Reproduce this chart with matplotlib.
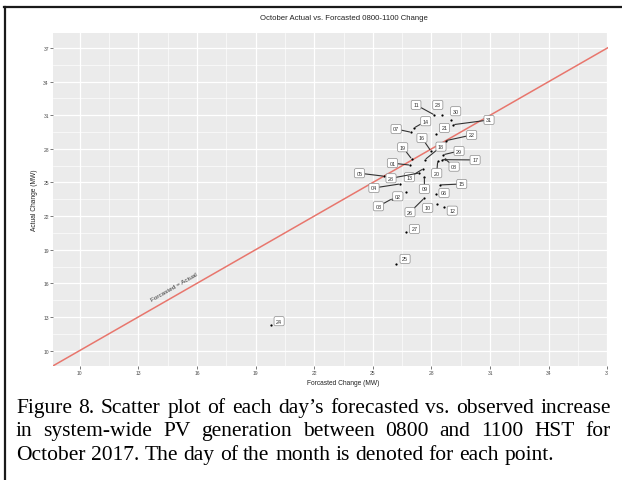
import matplotlib
matplotlib.use("Agg")
import matplotlib.pyplot as plt
import numpy as np
from matplotlib.lines import Line2D
from matplotlib.patches import Rectangle

# ---- data ----
days = ["01", "02", "03", "04", "05", "06", "07", "08", "09", "10",
        "11", "12", "13", "14", "15", "16", "17", "18", "19", "20",
        "21", "22", "23", "24", "25", "26", "27", "28", "29", "30", "31"]
forecasted = [26.91, 26.69, 25.97, 26.39, 25.58, 28.22, 26.96, 28.70, 27.64, 28.27,
              28.15, 28.64, 27.57, 27.11, 28.44, 27.96, 28.53, 27.67, 26.99, 28.32,
              28.24, 28.73, 28.53, 19.78, 26.19, 27.62, 26.69, 27.38, 28.61, 29.00, 29.12]
actual = [26.55, 24.18, 23.53, 24.87, 25.56, 23.98, 29.48, 27.10, 25.52, 23.09,
          31.03, 22.79, 26.21, 29.87, 24.78, 27.84, 27.04, 27.04, 27.10, 26.90,
          29.36, 28.73, 31.03, 12.32, 17.71, 23.58, 20.56, 25.85, 27.48, 30.61, 30.16]

# where each day label sits relative to its point (pixels), like ggrepel did
label_nudge = [(-17.7, 2), (-8, -4.6), (-13.4, -7.3), (-26, -4), (-24.7, 3),
               (8.3, 1), (-15, 3.3), (9, -7.7), (0, -12.3), (-9, -4),
               (-18.3, 10), (8.3, -3.4), (-13.7, -8.3), (11.7, 6.7), (21.7, 1),
               (-8.7, 12.7), (33.3, -0.3), (16, 13), (-9, 11.7), (-1, -12),
               (8.3, 5.7), (26, 5.7), (-4, 10), (8.3, 3.4), (9, 5.3),
               (-14, -13.8), (8.6, 3.3), (-28.3, -5.3), (15.7, 3.7), (4.7, 8.4),
               (35.7, 4.7)]

x_ticks = [10, 13, 16, 19, 22, 25, 28, 31, 34, 37]
y_ticks = [10, 13, 16, 19, 22, 25, 28, 31, 34, 37]

title = "October Actual vs. Forcasted 0800-1100 Change"
x_label = "Forcasted Change (MW)"
y_label = "Actual Change (MW)"
caption_lines = [
    "Figure 8. Scatter plot of each day\u2019s forecasted vs. observed increase",
    "in system-wide PV generation between 0800 and 1100 HST for",
    "October 2017. The day of the month is denoted for each point.",
]

W, H = 622, 481
sans = "Liberation Sans"
serif = "Liberation Serif"

fig = plt.figure(figsize=(W / 100, H / 100), dpi=100)
ax = fig.add_axes([53.3 / W, 1 - 366.7 / H, 580.4 / W, (366.7 - 33.9) / H])
ax.set_facecolor("#ebebeb")
ax.set_xlim(8.65, 38.35)
ax.set_ylim(8.65, 38.35)
ax.set_xticks(x_ticks)
ax.set_yticks(y_ticks)
ax.set_xticks(np.array(x_ticks[:-1]) + 1.5, minor=True)
ax.set_yticks(np.array(y_ticks[:-1]) + 1.5, minor=True)
ax.grid(which="major", color="white", lw=0.9)
ax.grid(which="minor", color="white", lw=0.45)
ax.set_axisbelow(True)
ax.tick_params(which="minor", length=0)
ax.tick_params(which="major", length=2, width=0.5, color="#444444",
               labelsize=3.6, labelcolor="#4d4d4d", pad=1.2)
for t in ax.get_xticklabels() + ax.get_yticklabels():
    t.set_fontfamily(sans)
for s in ax.spines.values():
    s.set_visible(False)

# forecasted = actual reference line
ax.axline((10, 10), slope=1, color="#e8766d", lw=1.1, zorder=2)
ax.text(14.83, 15.68, "Forcasted = Actual", rotation=29.8, ha="center", va="center",
        fontsize=4.6, color="#333333", family=sans)

ax.scatter(forecasted, actual, s=2.6, color="black", zorder=4, linewidths=0)

for d, fx, ay, (dx, dy) in zip(days, forecasted, actual, label_nudge):
    far = np.hypot(dx, dy) > 11
    ax.annotate(d, (fx, ay), xytext=(dx, dy), textcoords="offset pixels",
                ha="center", va="center", fontsize=3.9, color="#333333", family=sans,
                bbox=dict(boxstyle="round,pad=0.38,rounding_size=0.3",
                          fc="white", ec="#8c8c8c", lw=0.5),
                arrowprops=dict(arrowstyle="-", color="#333333", lw=0.8,
                                shrinkA=0, shrinkB=1) if far else None,
                zorder=5)

ax.set_xlabel(x_label, fontsize=4.8, color="#222222", family=sans, labelpad=3)
ax.set_ylabel(y_label, fontsize=4.8, color="#222222", family=sans, labelpad=4)
fig.text(343.5 / W, 1 - 18 / H, title, ha="center", va="center",
         fontsize=5.6, color="#222222", family=sans)

# the picture was cropped on the right: blank out the cut-off strip
fig.add_artist(Rectangle((608 / W, 1 - 392 / H), 14 / W, (392 - 11) / H,
                         transform=fig.transFigure, fc="white", ec="none", zorder=10))

# frame of the document figure (left and top edges only are visible)
fig.add_artist(Line2D([4.7 / W, 4.7 / W], [0, 1 - 7.5 / H], transform=fig.transFigure,
                      color="#1a1a1a", lw=1.6, zorder=11))
fig.add_artist(Line2D([3.9 / W, 1], [1 - 8 / H, 1 - 8 / H], transform=fig.transFigure,
                      color="#1a1a1a", lw=1.6, zorder=11))

# caption, justified like the paper
renderer = fig.canvas.get_renderer()
cap_size = 15.5
x_left, x_right = 16, 611
baselines = [413, 436.5, 460]
for i, (line, base) in enumerate(zip(caption_lines, baselines)):
    words = line.split()
    texts = [fig.text(0, 1 - base / H, w, fontsize=cap_size, family=serif,
                      va="baseline", ha="left", color="black") for w in words]
    widths = [t.get_window_extent(renderer).width for t in texts]
    if i < len(caption_lines) - 1:
        gap = (x_right - x_left - sum(widths)) / (len(words) - 1)
    else:
        gap = cap_size * 100 / 72 * 0.25
    x = x_left
    for t, w in zip(texts, widths):
        t.set_x(x / W)
        x += w + gap

fig.savefig("out.png", dpi=100)
